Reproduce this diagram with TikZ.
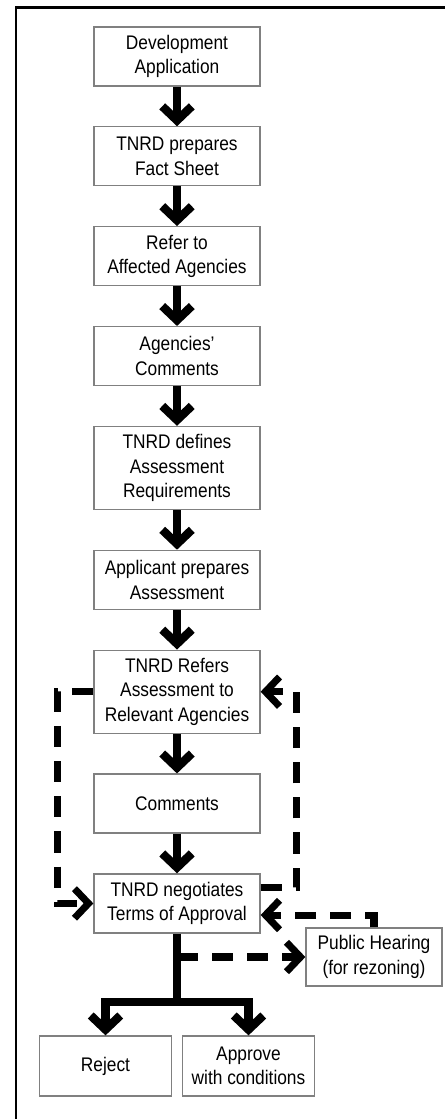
\documentclass[tikz,border=0pt]{standalone}
\usepackage{fontspec}
\setmainfont{Liberation Sans}[FakeStretch=0.88]
\usepackage{tikz}
\usetikzlibrary{arrows.meta, positioning, calc}

\begin{document}
\begin{tikzpicture}[
    >={Straight Barb[length=10pt, width=21pt]},
    node distance=0.99cm,
    stepbox/.style={draw=black!50, line width=0.9pt, minimum width=4.15cm, minimum height=1.475cm,
        align=center, inner sep=2pt, font=\fontsize{14}{17.4}\selectfont},
    tallbox/.style={stepbox, minimum height=2.075cm}, % three text lines
    flow/.style={->, line width=6pt},
    loopback/.style={->, line width=5pt, dash pattern=on 15pt off 10pt},
    frame/.style={line width=2pt}
]
\useasboundingbox (0,0) rectangle (11.125,-27.975);

% ==========================================
% 1. Frame (top and left edge only)
% ==========================================
\draw[frame] (11.125,-0.1875) -| (0.4,-27.975);

% ==========================================
% 2. Main chain of steps
% ==========================================
\node[stepbox] (devApp) at (4.425,-1.4125) {Development\\Application};
\node[stepbox, below=of devApp] (factSheet) {TNRD prepares\\Fact Sheet};
\node[stepbox, below=of factSheet] (referAg) {Refer to\\Affected Agencies};
\node[stepbox, below=of referAg] (agComm) {Agencies'\\Comments};
\node[tallbox, below=of agComm] (defReq) {TNRD defines\\Assessment\\Requirements};
\node[stepbox, below=of defReq] (prepAss) {Applicant prepares\\Assessment};
\node[tallbox, below=of prepAss] (referAss) {TNRD Refers\\Assessment to\\Relevant Agencies};
\node[stepbox, below=of referAss] (comments) {Comments};
\node[stepbox, below=of comments] (negotiate) {TNRD negotiates\\Terms of Approval};

% solid arrows between the steps
\foreach \a/\b in {devApp/factSheet, factSheet/referAg, referAg/agComm, agComm/defReq,
                   defReq/prepAss, prepAss/referAss, referAss/comments, comments/negotiate}
    \draw[flow] (\a) -- (\b);

% ==========================================
% 3. Outcomes and public hearing
% ==========================================
\node[stepbox, minimum width=3.3cm, minimum height=1.5cm] (reject) at (2.6375,-26.65) {Reject};
\node[stepbox, minimum width=3.3cm, minimum height=1.5cm] (approve) at (6.2125,-26.65) {Approve\\with conditions};
\node[stepbox, minimum width=3.4cm, minimum height=1.45cm] (hearing) at (9.35,-23.925) {Public Hearing\\(for rezoning)};

\coordinate (split) at (4.425,-25.05);                % where the trunk splits
\coordinate (tap) at (negotiate.south |- hearing.west); % dashed branch leaves the trunk

\draw[line width=6pt] (negotiate) -- (split);
\draw[flow] (split) -| (reject);
\draw[flow] (split) -| (approve);
\draw[loopback] (tap) -- (hearing);

% ==========================================
% 4. Dashed loops
% ==========================================
\draw[loopback] (referAss.west) -- ++(-0.9,0) |- (negotiate.west);            % left loop
\draw[loopback] ($(negotiate.east)+(0,0.39)$) -- ++(0.9,0) |- (referAss.east); % right loop
\draw[loopback] (hearing.north) |- ($(negotiate.east)+(0,-0.29)$);            % back from hearing

\end{tikzpicture}
\end{document}
